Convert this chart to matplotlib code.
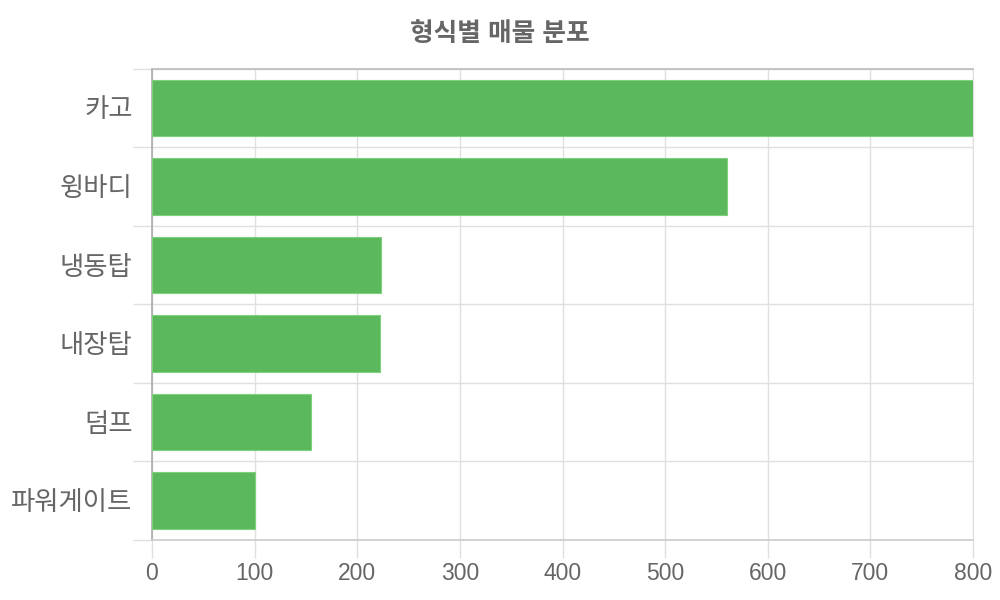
import matplotlib

matplotlib.use("Agg")
import matplotlib.pyplot as plt
import numpy as np

plt.rcParams["font.family"] = ["Liberation Sans", "Noto Sans CJK KR", "DejaVu Sans"]

# Data
categories = ["카고", "윙바디", "냉동탑", "내장탑", "덤프", "파워게이트"]
counts = [800, 560, 223, 222, 155, 100]
x_ticks = [0, 100, 200, 300, 400, 500, 600, 700, 800]

bar_color = "#5cb85c"
text_color = "#666666"
grid_color = "#e0e0e0"

fig = plt.figure(figsize=(10, 6), dpi=100)
ax = fig.add_axes([0.152, 0.1, 0.821, 0.7855])

y = np.arange(len(categories))
ax.barh(y, counts, height=0.72, color=bar_color, edgecolor="#7fd07f", linewidth=0.8, zorder=3)

ax.set_xlim(0, 800)
ax.set_ylim(len(categories) - 0.5, -0.5)

ax.set_xticks(x_ticks)
ax.set_xticklabels([str(v) for v in x_ticks])
ax.set_yticks(y)
ax.set_yticklabels(categories)
ax.set_yticks(np.arange(-0.5, len(categories), 1), minor=True)

ax.grid(axis="x", which="major", color=grid_color, linewidth=1, zorder=0)
ax.grid(axis="y", which="minor", color=grid_color, linewidth=1, zorder=0)

ax.tick_params(axis="x", which="major", length=13, width=1, color=grid_color,
               labelsize=16.5, labelcolor=text_color, pad=3)
ax.tick_params(axis="y", which="major", length=0, labelsize=19,
               labelcolor=text_color, pad=14)
ax.tick_params(axis="y", which="minor", length=14, width=1, color=grid_color)

ax.spines["left"].set_color("#aaaaaa")
ax.spines["left"].set_linewidth(1.2)
ax.spines["bottom"].set_color("#cccccc")
ax.spines["bottom"].set_linewidth(1.2)
ax.spines["top"].set_color("#bbbbbb")
ax.spines["top"].set_linewidth(1.2)
ax.spines["right"].set_color(grid_color)

fig.text(0.5, 0.943, "형식별 매물 분포", ha="center", va="center",
         fontsize=18.5, fontweight="bold", color=text_color)

plt.savefig("out.png", dpi=100)
plt.close()
